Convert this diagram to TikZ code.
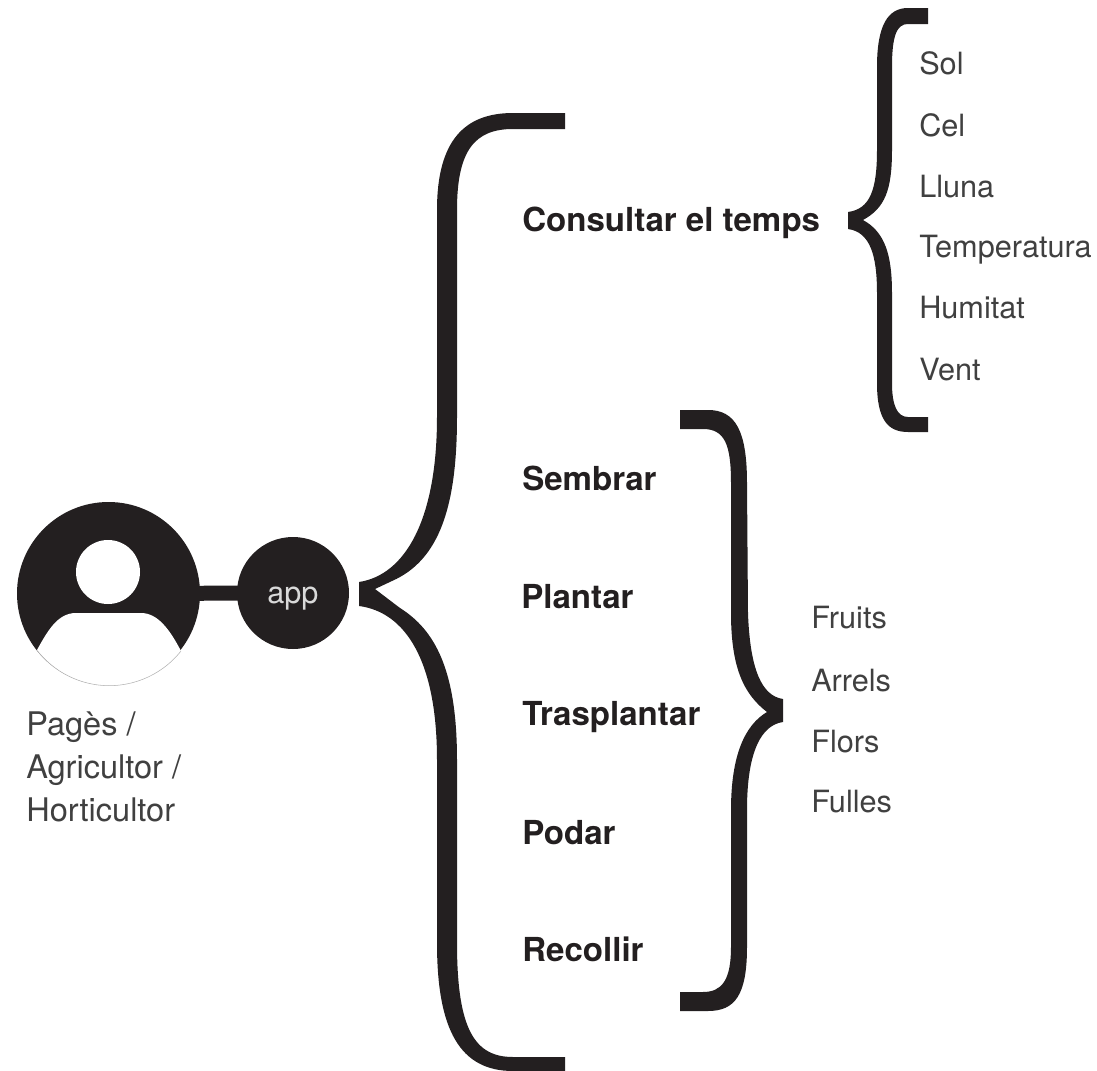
\documentclass[tikz,border=0pt]{standalone}
\usepackage{fontspec}
\setmainfont{TeX Gyre Heros}
\definecolor{inkdark}{HTML}{231F20}
\definecolor{inklight}{HTML}{404040}
\tikzset{
    bracefill/.style={fill=inkdark},
    disc/.style={circle,fill=inkdark,inner sep=0pt},
    actionlabel/.style={anchor=base west,inner sep=0pt,text=inkdark,font=\bfseries\fontsize{24.8}{24.8}\selectfont},
    itemlabel/.style={anchor=base west,inner sep=0pt,text=inklight,font=\fontsize{23}{23}\selectfont},
    rolelabel/.style={anchor=base west,inner sep=0pt,text=inklight,font=\fontsize{24.4}{24.4}\selectfont}
}
\begin{document}
\begin{tikzpicture}[x=0.75pt,y=-0.75pt]
            \useasboundingbox (0,0) rectangle (1097,1071);
            \node[disc,minimum size=137.25pt] (user) at (108.5,593.5) {};
            \node[disc,minimum size=84pt] (app) at (293,593) {};
            \draw[inkdark,line width=11.25pt,shorten <=-1pt,shorten >=-1pt] (user) -- (app);
            \node[anchor=base west,inner sep=0pt,text=black!15,font=\fontsize{23}{23}\selectfont] (applabel) at (267,603) {app};
            \fill[white] (37,650) .. controls (48,630) and (58,613) .. (76,613) -- (141,613) .. controls (158,613) and (170,630) .. (181,651) arc (38.4:141.7:91.5) -- cycle;
            \draw[gray!60,line width=0.4pt] (181,651) arc (38.4:141.7:91.5);
            \node[circle,fill=white,inner sep=0pt,minimum size=48pt] (head) at (108,572) {};
            \fill[bracefill] (565,113) -- (513,113) .. controls (465,113) and (437,140) .. (437,210) -- (437,417)
                .. controls (437,520) and (405,575) .. (359,582) -- (359,606)
                .. controls (405,612) and (437,660) .. (437,760) -- (437,943)
                .. controls (437,1030) and (460,1071) .. (513,1071) -- (565,1071) -- (565,1057) -- (513,1057)
                .. controls (475,1057) and (457,1030) .. (457,943) -- (457,760)
                .. controls (457,670) and (435,630) .. (400,608) -- (375,589) -- (392,581)
                .. controls (440,560) and (457,505) .. (457,417) -- (457,210)
                .. controls (457,150) and (475,129) .. (513,129) -- (565,129) -- cycle;
            \fill[bracefill] (680,410) -- (708,410) .. controls (735,410) and (747,430) .. (747,483) -- (748,613)
                .. controls (750,670) and (762,696) .. (783,699) -- (783,722)
                .. controls (762,725) and (747,750) .. (747,810) -- (747,947)
                .. controls (747,995) and (735,1011) .. (708,1011) -- (680,1011) -- (680,992) -- (703,992)
                .. controls (722,992) and (731,980) .. (731,947) -- (731,810)
                .. controls (731,755) and (745,725) .. (767,712)
                .. controls (745,695) and (731,670) .. (731,613) -- (731,483)
                .. controls (731,445) and (725,429) .. (703,429) -- (680,429) -- cycle;
            \fill[bracefill] (928,8) -- (908,8) .. controls (888,8) and (877,25) .. (877,67) -- (877,150)
                .. controls (877,190) and (870,209) .. (848,212) -- (848,229)
                .. controls (870,232) and (877,255) .. (877,293) -- (877,383)
                .. controls (877,420) and (888,432) .. (908,432) -- (928,432) -- (928,417) -- (908,417)
                .. controls (897,417) and (892,405) .. (892,383) -- (892,293)
                .. controls (892,255) and (885,232) .. (863,220)
                .. controls (885,208) and (892,190) .. (892,150) -- (892,67)
                .. controls (892,35) and (897,24) .. (908,24) -- (928,24) -- cycle;
            \node[actionlabel] (consultar) at (522,231) {Consultar el temps};
            \node[actionlabel] (sembrar) at (522,490) {Sembrar};
            \node[actionlabel] (plantar) at (521,608) {Plantar};
            \node[actionlabel] (trasplantar) at (522,725) {Trasplantar};
            \node[actionlabel] (podar) at (522,844) {Podar};
            \node[actionlabel] (recollir) at (522,961) {Recollir};
            \node[itemlabel] (sol) at (919,74) {Sol};
            \node[itemlabel] (cel) at (919,136) {Cel};
            \node[itemlabel] (lluna) at (919,197) {Lluna};
            \node[itemlabel] (temperatura) at (919,257) {Temperatura};
            \node[itemlabel] (humitat) at (919,318) {Humitat};
            \node[itemlabel] (vent) at (919,380) {Vent};
            \node[itemlabel] (fruits) at (811,628) {Fruits};
            \node[itemlabel] (arrels) at (811,691) {Arrels};
            \node[itemlabel] (flors) at (811,752) {Flors};
            \node[itemlabel] (fulles) at (811,812) {Fulles};
            \node[rolelabel] (pages) at (26,735) {Pagès /};
            \node[rolelabel] (agricultor) at (26,778) {Agricultor /};
            \node[rolelabel] (horticultor) at (26,821) {Horticultor};
            \end{tikzpicture}
\end{document}
